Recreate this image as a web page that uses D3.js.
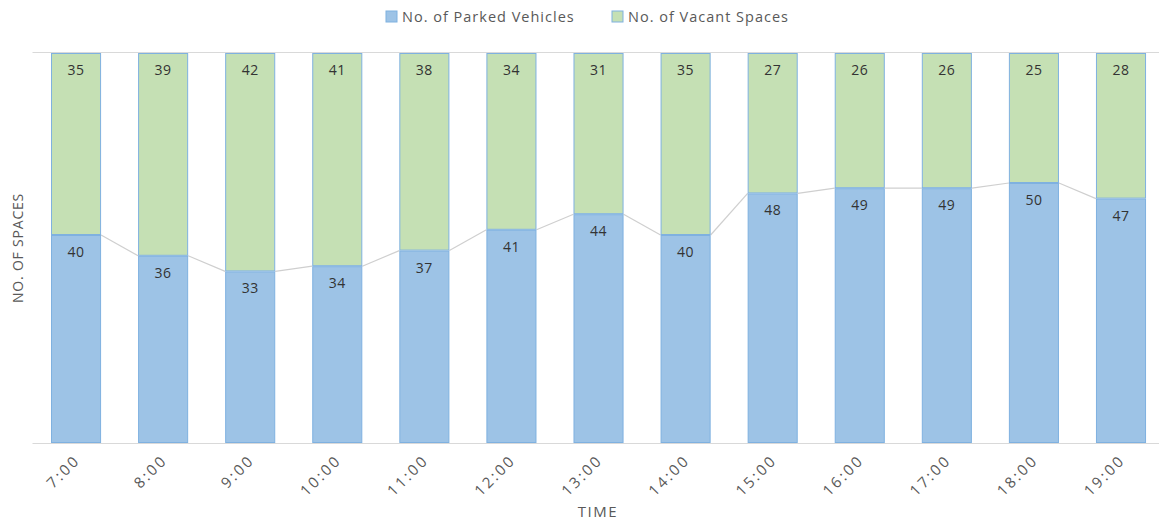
<!DOCTYPE html>
<html>
<head>
<meta charset="utf-8">
<script src="https://cdn.jsdelivr.net/npm/d3@7"></script>
<style>
  body { margin: 0; background: #fff; }
  svg { display: block; font-family: "Open Sans", "DejaVu Sans", sans-serif; }
</style>
</head>
<body>
<div id="chart"></div>
<script>
var times = ['7:00','8:00','9:00','10:00','11:00','12:00','13:00','14:00','15:00','16:00','17:00','18:00','19:00'];
var parked = [40,36,33,34,37,41,44,40,48,49,49,50,47];
var vacant = [35,39,42,41,38,34,31,35,27,26,26,25,28];
var seriesNames = ['No. of Parked Vehicles', 'No. of Vacant Spaces'];

var width = 1159, height = 522;
var plotTop = 53, plotBottom = 443, plotLeft = 32.5;

var svg = d3.select('#chart').append('svg')
    .attr('width', width)
    .attr('height', height);

var x = d3.scaleBand()
    .domain(times)
    .range([plotLeft, plotLeft + 13 * 87.08])
    .paddingInner(0.425)
    .paddingOuter(0.2125);

var y = d3.scaleLinear()
    .domain([0, 75])
    .range([plotBottom, plotTop]);

// top gridline
svg.append('line')
    .attr('x1', plotLeft).attr('x2', width)
    .attr('y1', y(75) - 0.5).attr('y2', y(75) - 0.5)
    .attr('stroke', '#d9d9d9').attr('stroke-width', 1);

var rows = times.map(function(t, i) {
    return {time: t, parked: parked[i], vacant: vacant[i]};
});
var stack = d3.stack().keys(['parked', 'vacant'])(rows);
var fills = ['#9dc3e6', '#c5e0b4'];

// series lines between tops of blue segments
var lineData = [];
rows.forEach(function(d, i) {
    if (i < rows.length - 1) {
        lineData.push([x(d.time) + x.bandwidth(), y(d.parked), x(rows[i+1].time), y(rows[i+1].parked)]);
    }
});
svg.append('g').selectAll('line')
    .data(lineData)
    .enter().append('line')
    .attr('x1', function(d) { return d[0]; })
    .attr('y1', function(d) { return d[1]; })
    .attr('x2', function(d) { return d[2]; })
    .attr('y2', function(d) { return d[3]; })
    .attr('stroke', '#cfcfcf')
    .attr('stroke-width', 1.2);

var layers = svg.append('g').selectAll('g')
    .data(stack)
    .enter().append('g')
    .attr('fill', function(d, i) { return fills[i]; });

layers.selectAll('rect')
    .data(function(d) { return d; })
    .enter().append('rect')
    .attr('x', function(d) { return x(d.data.time) + 0.5; })
    .attr('y', function(d) { return y(d[1]) + 0.5; })
    .attr('width', x.bandwidth() - 1)
    .attr('height', function(d) { return y(d[0]) - y(d[1]) - 1; })
    .attr('stroke', '#7fb1e0')
    .attr('stroke-width', 1);

// value labels at inside end
layers.selectAll('text')
    .data(function(d) { return d; })
    .enter().append('text')
    .attr('x', function(d) { return x(d.data.time) + x.bandwidth() / 2; })
    .attr('y', function(d) { return y(d[1]) + 22; })
    .attr('text-anchor', 'middle')
    .attr('font-size', 14)
    .attr('letter-spacing', 0.5)
    .attr('fill', '#333333')
    .text(function(d) { return d[1] - d[0]; });

// baseline
svg.append('line')
    .attr('x1', plotLeft).attr('x2', width)
    .attr('y1', plotBottom + 0.5).attr('y2', plotBottom + 0.5)
    .attr('stroke', '#d9d9d9').attr('stroke-width', 1);

// x axis labels, rotated
var xAxis = svg.append('g')
    .attr('transform', 'translate(0,' + plotBottom + ')')
    .call(d3.axisBottom(x).tickSize(0));
xAxis.select('.domain').remove();
xAxis.selectAll('text')
    .attr('font-family', '"Open Sans", "DejaVu Sans", sans-serif')
    .attr('font-size', 15)
    .attr('letter-spacing', 2.5)
    .attr('fill', '#595959')
    .attr('text-anchor', 'end')
    .attr('dy', 0)
    .attr('transform', 'translate(3,16) rotate(-45)');

// axis titles
svg.append('text')
    .attr('transform', 'translate(23,' + ((plotTop + plotBottom) / 2) + ') rotate(-90)')
    .attr('text-anchor', 'middle')
    .attr('font-size', 14)
    .attr('letter-spacing', 0.8)
    .attr('fill', '#595959')
    .text('NO. OF SPACES');

svg.append('text')
    .attr('x', 598).attr('y', 517)
    .attr('text-anchor', 'middle')
    .attr('font-size', 15)
    .attr('letter-spacing', 1.5)
    .attr('fill', '#595959')
    .text('TIME');

// legend
var legendX = [386, 612];
var legend = svg.append('g').selectAll('g')
    .data(seriesNames)
    .enter().append('g')
    .attr('transform', function(d, i) { return 'translate(' + legendX[i] + ',11)'; });
legend.append('rect')
    .attr('width', 11).attr('height', 11)
    .attr('fill', function(d, i) { return fills[i]; })
    .attr('stroke', '#7fb1e0');
legend.append('text')
    .attr('x', 16).attr('y', 11)
    .attr('font-size', 14.5)
    .attr('letter-spacing', 1)
    .attr('fill', '#595959')
    .text(function(d) { return d; });
</script>
</body>
</html>
